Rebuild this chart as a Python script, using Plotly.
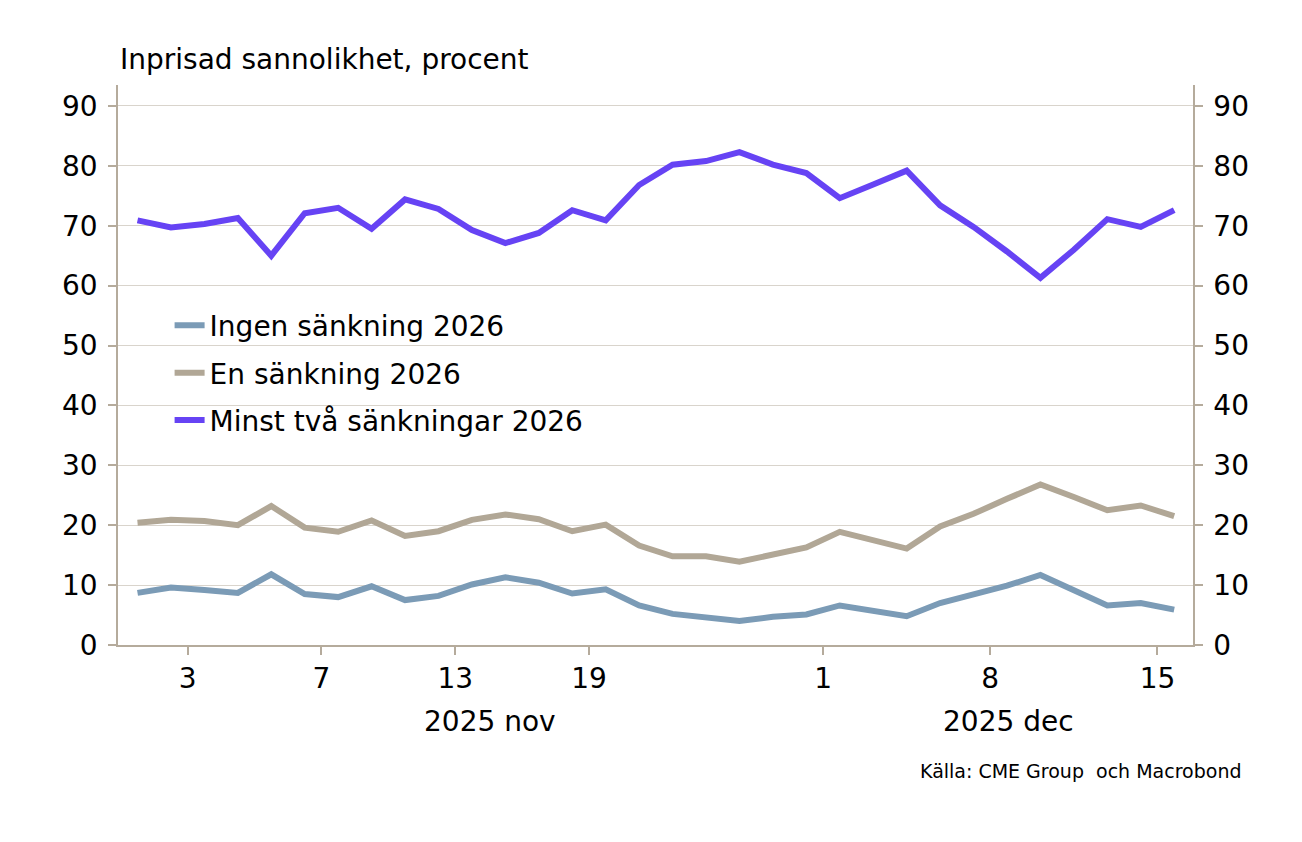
import plotly.graph_objects as go

# ---- data ----
dates = ["2025-10-30", "2025-10-31",
         "2025-11-03", "2025-11-04", "2025-11-05", "2025-11-06", "2025-11-07",
         "2025-11-10", "2025-11-11", "2025-11-12", "2025-11-13", "2025-11-14",
         "2025-11-17", "2025-11-18", "2025-11-19", "2025-11-20", "2025-11-21",
         "2025-11-24", "2025-11-25", "2025-11-26", "2025-11-28",
         "2025-12-01", "2025-12-02", "2025-12-03", "2025-12-04", "2025-12-05",
         "2025-12-08", "2025-12-09", "2025-12-10", "2025-12-11", "2025-12-12",
         "2025-12-15"]

ingen = [8.7, 9.6, 9.2, 8.7, 11.8, 8.5, 8.0, 9.8, 7.5, 8.2, 10.1, 11.3, 10.4, 8.6, 9.3, 6.6,
         5.2, 4.6, 4.0, 4.7, 5.1, 6.6, 5.8, 4.8, 7.0, 8.5, 9.9, 11.7, 9.1, 6.6, 7.0, 5.9]
en = [20.4, 20.9, 20.7, 20.0, 23.2, 19.6, 18.9, 20.8, 18.2, 19.0, 20.9, 21.8, 21.0, 19.0, 20.1, 16.6,
      14.8, 14.8, 13.9, 15.2, 16.3, 18.9, 17.5, 16.1, 19.8, 21.9, 24.4, 26.8, 24.7, 22.5, 23.3, 21.5]
minst = [70.9, 69.7, 70.3, 71.3, 65.0, 72.1, 73.0, 69.5, 74.4, 72.8, 69.3, 67.1, 68.8, 72.6, 70.9, 76.8,
         80.2, 80.8, 82.3, 80.2, 78.8, 74.6, 76.9, 79.2, 73.4, 69.8, 65.7, 61.3, 66.0, 71.1, 69.8, 72.6]

series_names = ["Ingen sänkning 2026", "En sänkning 2026", "Minst två sänkningar 2026"]
series_colors = ["#7b9bb6", "#b1a796", "#6643f4"]

tick_dates = ["2025-11-03", "2025-11-07", "2025-11-13", "2025-11-19",
              "2025-12-01", "2025-12-08", "2025-12-15"]
tick_text = ["3", "7", "13", "19", "1", "8", "15"]
y_ticks = [0, 10, 20, 30, 40, 50, 60, 70, 80, 90]

title_text = "Inprisad sannolikhet, procent"
month_labels = ["2025 nov", "2025 dec"]
source_text = "Källa: CME Group  och Macrobond"

# ---- figure ----
FONT = "DejaVu Sans"
FS = 28
AXIS_COL = "#b5ab9c"
GRID_COL = "#d9d4cc"

# each observation drawn at the middle of its business day
x_mid = [d + " 12:00" for d in dates]

fig = go.Figure()
for vals, name, col in zip([ingen, en, minst], series_names, series_colors):
    fig.add_trace(go.Scatter(x=x_mid, y=vals, mode="lines", name=name,
                             legendgroup=name,
                             line=dict(color=col, width=6)))

fig.update_layout(
    width=1302, height=842,
    margin=dict(l=110, r=117, t=77, b=205),
    paper_bgcolor="white", plot_bgcolor="white",
    font=dict(family=FONT, size=FS, color="#000000"),
    showlegend=True,
    legend=dict(x=0.048, y=0.615, xanchor="left", yanchor="top",
                bgcolor="rgba(0,0,0,0)", font=dict(size=FS, color="#000"),
                tracegroupgap=8, itemwidth=30),
    xaxis=dict(
        type="date",
        range=["2025-10-29 22:00", "2025-12-16 01:30"],
        rangebreaks=[dict(bounds=["sat", "mon"]), dict(values=["2025-11-27"])],
        tickmode="array", tickvals=tick_dates, ticktext=tick_text,
        showgrid=False, showline=True, linecolor=AXIS_COL, linewidth=1.5,
        ticks="outside", ticklen=8, tickcolor=AXIS_COL, tickwidth=1.5,
        tickfont=dict(size=FS), zeroline=False,
    ),
    yaxis=dict(
        range=[0, 93.5], tickvals=y_ticks, showgrid=True, gridcolor=GRID_COL,
        gridwidth=1.2, showline=True, linecolor=AXIS_COL, linewidth=1.5,
        ticks="outside", ticklen=8, tickcolor=AXIS_COL, tickwidth=1.5,
        tickfont=dict(size=FS), zeroline=False, ticklabelstandoff=5,
    ),
    yaxis2=dict(
        range=[0, 93.5], tickvals=y_ticks, overlaying="y", side="right",
        matches="y", showgrid=False, showline=True, linecolor=AXIS_COL,
        linewidth=1.5, ticks="outside", ticklen=8, tickcolor=AXIS_COL,
        tickwidth=1.5, tickfont=dict(size=FS), zeroline=False,
        ticklabelstandoff=5,
    ),
)

# invisible trace to activate right axis
fig.add_trace(go.Scatter(x=[x_mid[0]], y=[minst[0]], yaxis="y2", mode="lines",
                         showlegend=False, hoverinfo="skip",
                         line=dict(color="rgba(0,0,0,0)")))

fig.add_annotation(text=title_text, xref="paper", yref="paper", x=0, y=1.046,
                   xanchor="left", yanchor="middle", showarrow=False,
                   font=dict(size=FS, color="#000"))
for lbl, px in zip(month_labels, [0.346, 0.828]):
    fig.add_annotation(text=lbl, xref="paper", yref="paper", x=px, y=-0.137,
                       xanchor="center", yanchor="middle", showarrow=False,
                       font=dict(size=FS, color="#000"))
fig.add_annotation(text=source_text, xref="paper", yref="paper", x=1.0465, y=-0.225,
                   xanchor="right", yanchor="middle", showarrow=False,
                   font=dict(size=19, color="#000"))

fig.write_html("out.html")
